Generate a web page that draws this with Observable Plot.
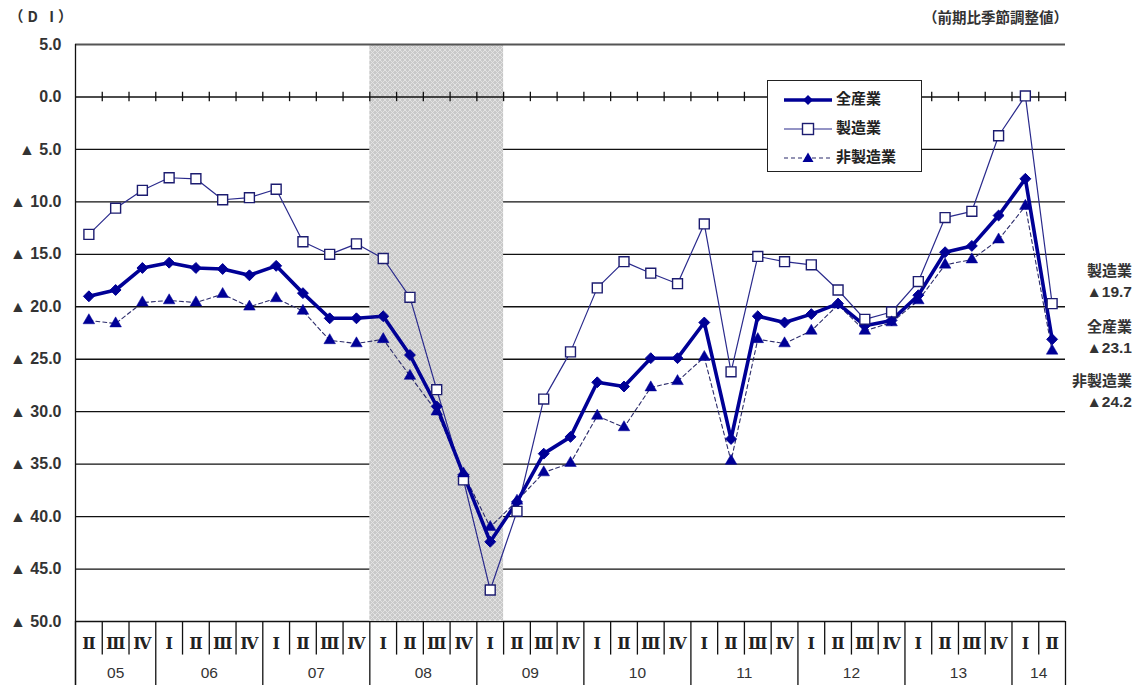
<!DOCTYPE html>
<html><head><meta charset="utf-8">
<script src="https://cdn.jsdelivr.net/npm/d3@7"></script>
<script src="https://cdn.jsdelivr.net/npm/@observablehq/plot@0.6"></script>
<style>
body{margin:0;background:#fff;}
#wrap{position:relative;width:1140px;height:689px;font-family:"Noto Sans CJK JP",sans-serif;color:#222;}
.ov{position:absolute;white-space:nowrap;font-weight:bold;}
#legend{position:absolute;left:767px;top:80px;width:153px;height:90px;border:1.5px solid #222;background:#fff;}
.lrow{position:absolute;left:0;width:150px;height:20px;}
.lrow svg{position:absolute;left:14px;top:0;}
.lrow span{position:absolute;left:68px;top:-3px;font-size:15px;font-weight:bold;color:#222;white-space:nowrap;}
.rlab{position:absolute;right:8px;text-align:right;font-size:15px;font-weight:bold;color:#333;line-height:22px;white-space:nowrap;}
</style></head><body>
<div id="wrap"></div>
<script>
// ---- data ----
const yearLabels = ["05","06","07","08","09","10","11","12","13","14"];
const quarterLabels = ["Ⅱ","Ⅲ","Ⅳ",
  "Ⅰ","Ⅱ","Ⅲ","Ⅳ", "Ⅰ","Ⅱ","Ⅲ","Ⅳ", "Ⅰ","Ⅱ","Ⅲ","Ⅳ", "Ⅰ","Ⅱ","Ⅲ","Ⅳ",
  "Ⅰ","Ⅱ","Ⅲ","Ⅳ", "Ⅰ","Ⅱ","Ⅲ","Ⅳ", "Ⅰ","Ⅱ","Ⅲ","Ⅳ", "Ⅰ","Ⅱ","Ⅲ","Ⅳ",
  "Ⅰ","Ⅱ"];
const allIndustries = [-19.0,-18.4,-16.3, -15.8,-16.3,-16.4,-17.0, -16.1,-18.7,-21.1,-21.1,
  -20.9,-24.6,-29.5,-36.0, -42.4,-38.6,-34.0,-32.4, -27.2,-27.6,-24.9,-24.9,
  -21.5,-32.6,-20.9,-21.5, -20.7,-19.7,-21.8,-21.3, -18.9,-14.8,-14.2,-11.3, -7.8,-23.1];
const manufacturing = [-13.1,-10.6,-8.9, -7.7,-7.8,-9.8,-9.6, -8.8,-13.8,-15.0,-14.0,
  -15.4,-19.1,-27.9,-36.5, -47.0,-39.5,-28.8,-24.3, -18.2,-15.7,-16.8,-17.8,
  -12.1,-26.2,-15.2,-15.7, -16.0,-18.4,-21.2,-20.5, -17.6,-11.5,-10.9,-3.7, 0.1,-19.7];
const nonManufacturing = [-21.3,-21.6,-19.6, -19.4,-19.6,-18.8,-20.0, -19.2,-20.4,-23.2,-23.5,
  -23.1,-26.6,-30.0,-35.9, -41.0,-38.5,-35.8,-34.9, -30.4,-31.5,-27.7,-27.1,
  -24.8,-34.7,-23.1,-23.5, -22.3,-19.8,-22.3,-21.5, -19.4,-16.0,-15.5,-13.6, -10.4,-24.2];
const seriesNames = ["全産業","製造業","非製造業"];
const recessionFrom = {year:"08", q:"Ⅰ"};
const recessionTo = {year:"09", q:"Ⅰ"};
const yTicks = [5,0,-5,-10,-15,-20,-25,-30,-35,-40,-45,-50];
const unitLabel = "（D I）";
const noteLabel = "（前期比季節調整値）";

// ---- derived table ----
const periods = [];
{ let yi = 0;
  quarterLabels.forEach((q, i) => {
    if (i > 0 && q === "Ⅰ") yi++;
    periods.push({i, q, year: yearLabels[yi]});
  });
}
const rows = periods.map((p, i) => ({...p, all: allIndustries[i], mfg: manufacturing[i], non: nonManufacturing[i]}));
const yearGroups = yearLabels.map(y => {
  const ps = periods.filter(p => p.year === y);
  return {year: y, center: d3.mean(ps, p => p.i), start: ps[0].i};
});
const boundaries = d3.range(periods.length + 1).map(k => k - 0.5);
const yearStarts = new Set(yearGroups.map(g => g.start - 0.5).concat([periods.length - 0.5]));
const quarterBounds = boundaries.filter(b => !yearStarts.has(b));
const yearBounds = boundaries.filter(b => yearStarts.has(b));
const recIdx0 = periods.find(p => p.year === recessionFrom.year && p.q === recessionFrom.q).i;
const recIdx1 = periods.find(p => p.year === recessionTo.year && p.q === recessionTo.q).i;
const fmt = v => v > 0 ? v.toFixed(1) : v === 0 ? "0.0" : "▲ " + (-v).toFixed(1);
const fmtR = v => v < 0 ? "▲" + (-v).toFixed(1) : v.toFixed(1);

const NAVY = "#000096";

const plot = Plot.plot({
  width: 1140, height: 689,
  marginLeft: 75, marginRight: 75, marginTop: 44, marginBottom: 68,
  x: {domain: [-0.5, periods.length - 0.5], axis: null},
  y: {domain: [-50, 5], axis: null},
  style: {fontFamily: "'Liberation Sans', Arial, sans-serif", fontSize: "14px", background: "#fff"},
  marks: [
    Plot.ruleY(yTicks.filter(t => t < 0), {stroke: "#111", strokeWidth: 1.3}),
    Plot.rect([{a: recIdx0 - 0.5, b: recIdx1 + 0.5}], {x1: "a", x2: "b", y1: -50, y2: 5, fill: "url(#hatch)"}),
    Plot.ruleY([0], {stroke: "#111", strokeWidth: 1.4}),
    Plot.ruleY([5], {stroke: "#555", strokeWidth: 2.2}),
    Plot.ruleX(boundaries.slice(1), {y1: 0.45, y2: -0.45, stroke: "#111", strokeWidth: 1.3}),
    Plot.ruleX([-0.5], {y1: 5, y2: -56.1, stroke: "#111", strokeWidth: 1.3}),
    Plot.ruleX(quarterBounds, {y1: -50, y2: -53.2, stroke: "#111", strokeWidth: 1.3}),
    Plot.ruleX(yearBounds, {y1: -50, y2: -56.1, stroke: "#111", strokeWidth: 1.3}),
    Plot.text(rows, {x: "i", y: -52.1, text: "q", fontFamily: "'DejaVu Serif', 'Liberation Serif', serif", fontWeight: "bold", fontSize: 16, fill: "#222"}),
    Plot.text(yearGroups, {x: "center", y: -54.95, text: "year", fontSize: 15.5, fill: "#333"}),
    Plot.axisY({ticks: yTicks, tickFormat: fmt, tickSize: 0, tickPadding: 14, label: null, fontWeight: "bold", fontSize: 16, fill: "#333"}),
    // lines
    Plot.line(rows, {x: "i", y: "non", stroke: "#2b2b6b", strokeWidth: 1.1, strokeDasharray: "4,3"}),
    Plot.line(rows, {x: "i", y: "mfg", stroke: "#2a2a8c", strokeWidth: 1.2}),
    Plot.line(rows, {x: "i", y: "all", stroke: NAVY, strokeWidth: 3.6}),
    // markers
    Plot.dot(rows, {x: "i", y: "all", symbol: "diamond2", r: 4.9, fill: NAVY, stroke: NAVY, strokeWidth: 1}),
    Plot.dot(rows, {x: "i", y: "mfg", symbol: "square", r: 5.6, fill: "#fff", stroke: "#1c1c70", strokeWidth: 1.4}),
    Plot.dot(rows, {x: "i", y: "non", symbol: "triangle", r: 4.3, fill: NAVY, stroke: NAVY, strokeWidth: 0.5})
  ]
});

// hatch pattern for recession period
const svg = d3.select(plot);
const defs = svg.insert("defs", ":first-child");
const pat = defs.append("pattern").attr("id", "hatch").attr("patternUnits", "userSpaceOnUse").attr("width", 5).attr("height", 5);
pat.append("rect").attr("width", 5).attr("height", 5).attr("fill", "#c9c9c9");
pat.append("path").attr("d", "M0,0L5,5M5,0L0,5").attr("stroke", "#e4e4e4").attr("stroke-width", 0.9);

const wrap = document.getElementById("wrap");
plot.style.position = "absolute"; plot.style.left = "0"; plot.style.top = "0";
wrap.appendChild(plot);

function ov(text, css, cls) {
  const d = document.createElement("div");
  d.className = cls || "ov";
  d.textContent = text;
  Object.assign(d.style, css);
  wrap.appendChild(d);
  return d;
}
ov(unitLabel, {left: "9px", top: "5px", fontSize: "14.5px", color: "#333", letterSpacing: "4px"});
ov(noteLabel, {right: "72px", top: "6px", fontSize: "14.5px", color: "#333"});

// legend
const legend = document.createElement("div");
legend.id = "legend";
const specs = [
  {name: seriesNames[0], top: 9},
  {name: seriesNames[1], top: 38},
  {name: seriesNames[2], top: 67}
];
specs.forEach((s, k) => {
  const r = document.createElement("div");
  r.className = "lrow"; r.style.top = s.top + "px";
  let sample;
  if (k === 0) sample = `<line x1="2" y1="10" x2="50" y2="10" stroke="${NAVY}" stroke-width="3.6"/><path d="M26,5L31,10L26,15L21,10Z" fill="${NAVY}"/>`;
  else if (k === 1) sample = `<line x1="2" y1="10" x2="50" y2="10" stroke="#2a2a8c" stroke-width="1.2"/><rect x="20.5" y="4.5" width="11" height="11" fill="#fff" stroke="#1c1c70" stroke-width="1.4"/>`;
  else sample = `<line x1="2" y1="10" x2="50" y2="10" stroke="#2b2b6b" stroke-width="1.1" stroke-dasharray="4,3"/><path d="M26,4.5L31.5,14L20.5,14Z" fill="${NAVY}"/>`;
  r.innerHTML = `<svg width="54" height="20">${sample}</svg><span>${s.name}</span>`;
  legend.appendChild(r);
});
wrap.appendChild(legend);

// right-side end labels
const ends = [
  {name: seriesNames[1], v: manufacturing[manufacturing.length - 1], top: 259},
  {name: seriesNames[0], v: allIndustries[allIndustries.length - 1], top: 315},
  {name: seriesNames[2], v: nonManufacturing[nonManufacturing.length - 1], top: 369}
];
ends.forEach(e => {
  const d = document.createElement("div");
  d.className = "rlab"; d.style.top = e.top + "px";
  d.innerHTML = `<div>${e.name}</div><div style="font-family:'Liberation Sans Narrow','Liberation Sans',sans-serif;font-size:15.5px">${fmtR(e.v)}</div>`;
  wrap.appendChild(d);
});
</script>
</body></html>
